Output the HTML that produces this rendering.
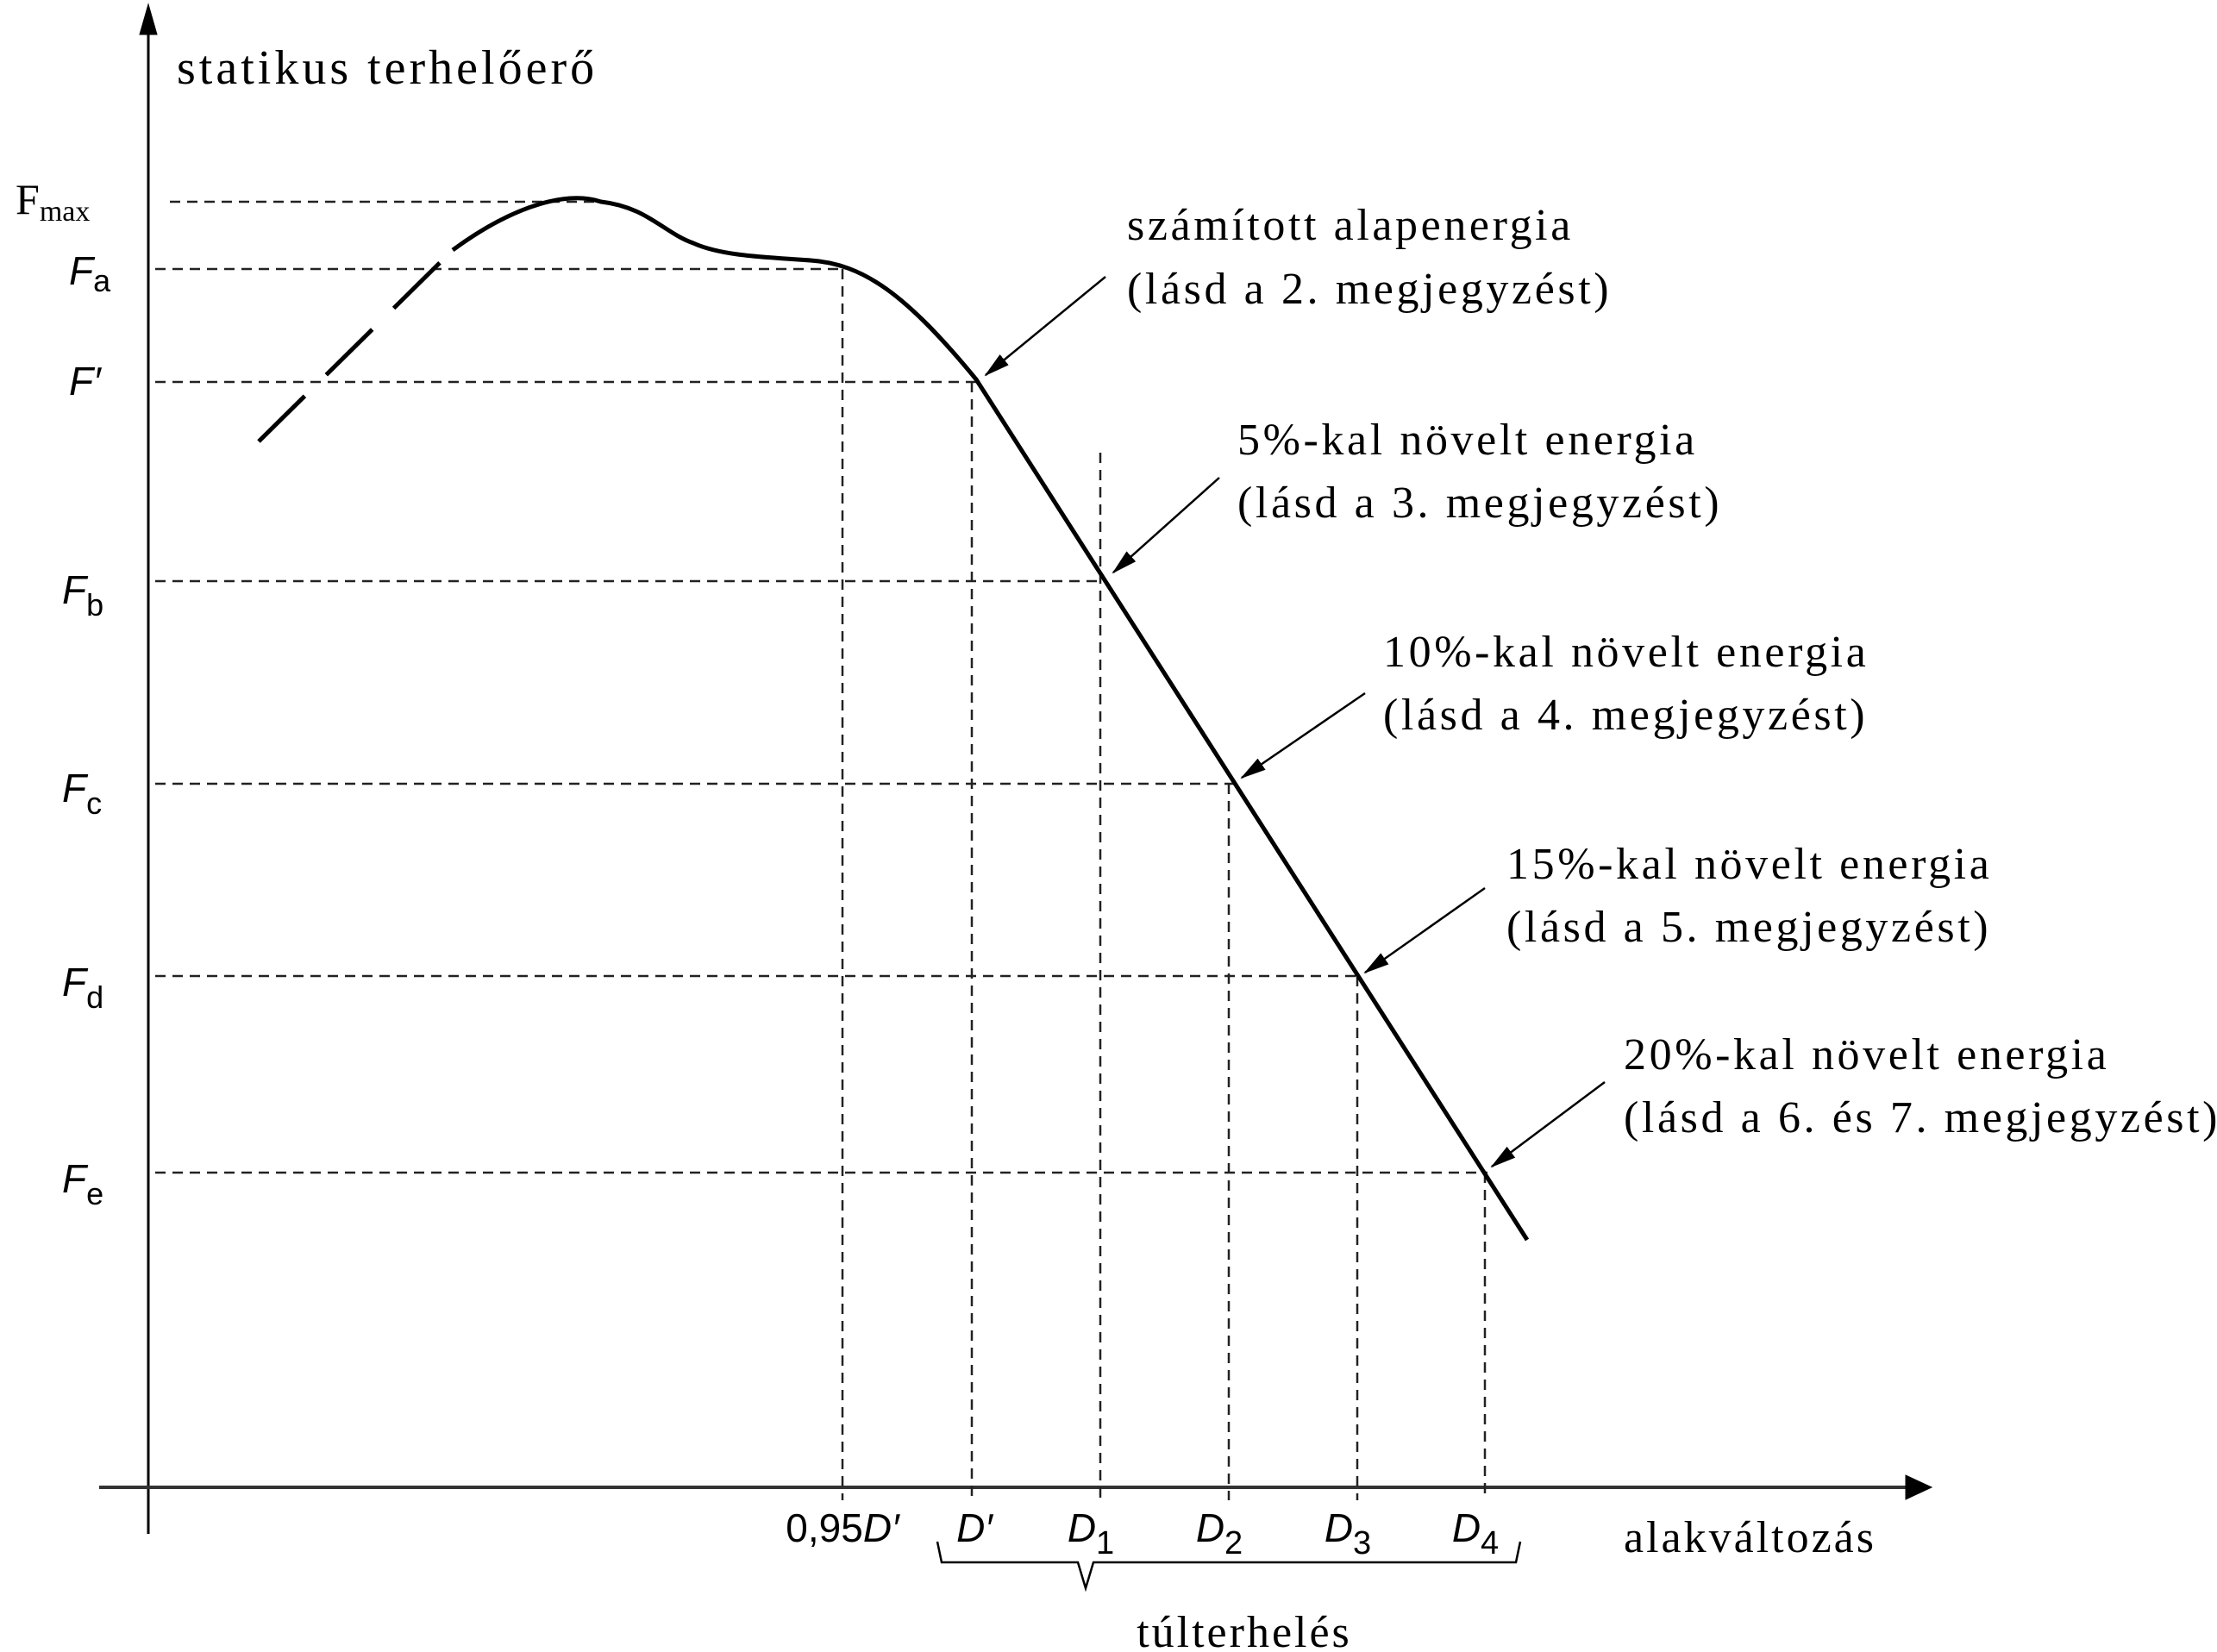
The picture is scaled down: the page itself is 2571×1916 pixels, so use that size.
<!DOCTYPE html>
<html><head><meta charset="utf-8"><style>body{margin:0;background:#fff}svg{display:block}</style></head>
<body>
<svg width="2571" height="1916" viewBox="0 0 2571 1916" xmlns="http://www.w3.org/2000/svg">
<defs><marker id="ah" markerWidth="30" markerHeight="20" refX="28" refY="10" orient="auto" markerUnits="userSpaceOnUse"><path d="M0,2 L30,10 L0,18 Z" fill="#000" stroke="none"/></marker></defs>
<g stroke="#000" fill="none">
<line x1="172" y1="20" x2="172" y2="1779" stroke-width="3"/>
<polygon points="172,5 162,40 182,40" fill="#000"/>
<line x1="115" y1="1725" x2="2215" y2="1725" stroke-width="4" stroke="#333"/>
<polygon points="2240,1725 2210,1711 2210,1739" fill="#000"/>
<g stroke-width="2.5" stroke-dasharray="12,8" stroke="#222">
<line x1="197" y1="234" x2="697" y2="234"/>
<line x1="180" y1="312" x2="977" y2="312"/>
<line x1="180" y1="443" x2="1132" y2="443"/>
<line x1="180" y1="674" x2="1284" y2="674"/>
<line x1="180" y1="909" x2="1436" y2="909"/>
<line x1="180" y1="1132" x2="1580" y2="1132"/>
<line x1="180" y1="1360" x2="1725" y2="1360"/>
<line x1="977" y1="312" x2="977" y2="1740"/>
<line x1="1127" y1="443" x2="1127" y2="1740"/>
<line x1="1276" y1="525" x2="1276" y2="1740"/>
<line x1="1425" y1="909" x2="1425" y2="1740"/>
<line x1="1574" y1="1132" x2="1574" y2="1740"/>
<line x1="1722" y1="1360" x2="1722" y2="1740"/>
</g>
<path d="M300,512 L525,290" stroke-width="5" stroke-dasharray="75,35"/>
<path d="M525,290 C600,235 660,222 697,234 C750,240 770,270 804,282 C835,296 880,298 940,302 C1000,306 1050,340 1132,440 L1771,1438" stroke-width="5"/>
<g stroke-width="2.5" marker-end="url(#ah)">
<line x1="1282" y1="321" x2="1143" y2="435"/>
<line x1="1414" y1="554" x2="1291" y2="664"/>
<line x1="1583" y1="804" x2="1440" y2="902"/>
<line x1="1722" y1="1030" x2="1583" y2="1128"/>
<line x1="1861" y1="1255" x2="1730" y2="1353"/>
</g>
<path d="M1087,1788 L1092,1812 L1250,1812 L1259,1842 L1268,1812 L1758,1812 L1763,1788" stroke-width="2.5"/>
</g>
<g font-family="Liberation Serif, serif" font-size="52" fill="#000" letter-spacing="3.6">
<text x="205" y="97" font-size="56" letter-spacing="4">statikus terhelőerő</text>
<text x="18" y="248" font-size="50" letter-spacing="0">F<tspan font-size="34" dy="8">max</tspan></text>
<text x="1307" y="278">számított alapenergia</text>
<text x="1307" y="352">(lásd a 2. megjegyzést)</text>
<text x="1435" y="527">5%-kal növelt energia</text>
<text x="1435" y="600">(lásd a 3. megjegyzést)</text>
<text x="1604" y="773">10%-kal növelt energia</text>
<text x="1604" y="846">(lásd a 4. megjegyzést)</text>
<text x="1747" y="1019">15%-kal növelt energia</text>
<text x="1747" y="1092">(lásd a 5. megjegyzést)</text>
<text x="1883" y="1240">20%-kal növelt energia</text>
<text x="1883" y="1313">(lásd a 6. és 7. megjegyzést)</text>
<text x="1883" y="1800" letter-spacing="3">alakváltozás</text>
<text x="1443" y="1910" text-anchor="middle" letter-spacing="3">túlterhelés</text>
</g>
<g font-family="Liberation Sans, sans-serif" font-size="46" fill="#000">
<text x="80" y="330" font-style="italic">F<tspan font-style="normal" font-size="36" dy="8">a</tspan></text>
<text x="80" y="458" font-style="italic">F′</text>
<text x="72" y="700" font-style="italic">F<tspan font-style="normal" font-size="36" dy="14">b</tspan></text>
<text x="72" y="930" font-style="italic">F<tspan font-style="normal" font-size="36" dy="14">c</tspan></text>
<text x="72" y="1155" font-style="italic">F<tspan font-style="normal" font-size="36" dy="14">d</tspan></text>
<text x="72" y="1383" font-style="italic">F<tspan font-style="normal" font-size="36" dy="14">e</tspan></text>
<text x="977" y="1788" text-anchor="middle">0,95<tspan font-style="italic">D′</tspan></text>
<text x="1130" y="1788" text-anchor="middle" font-style="italic">D′</text>
<text x="1265" y="1788" font-style="italic" text-anchor="middle">D<tspan font-style="normal" font-size="38" dy="14">1</tspan></text>
<text x="1414" y="1788" font-style="italic" text-anchor="middle">D<tspan font-style="normal" font-size="38" dy="14">2</tspan></text>
<text x="1563" y="1788" font-style="italic" text-anchor="middle">D<tspan font-style="normal" font-size="38" dy="14">3</tspan></text>
<text x="1711" y="1788" font-style="italic" text-anchor="middle">D<tspan font-style="normal" font-size="38" dy="14">4</tspan></text>
</g>
</svg>
</body></html>
